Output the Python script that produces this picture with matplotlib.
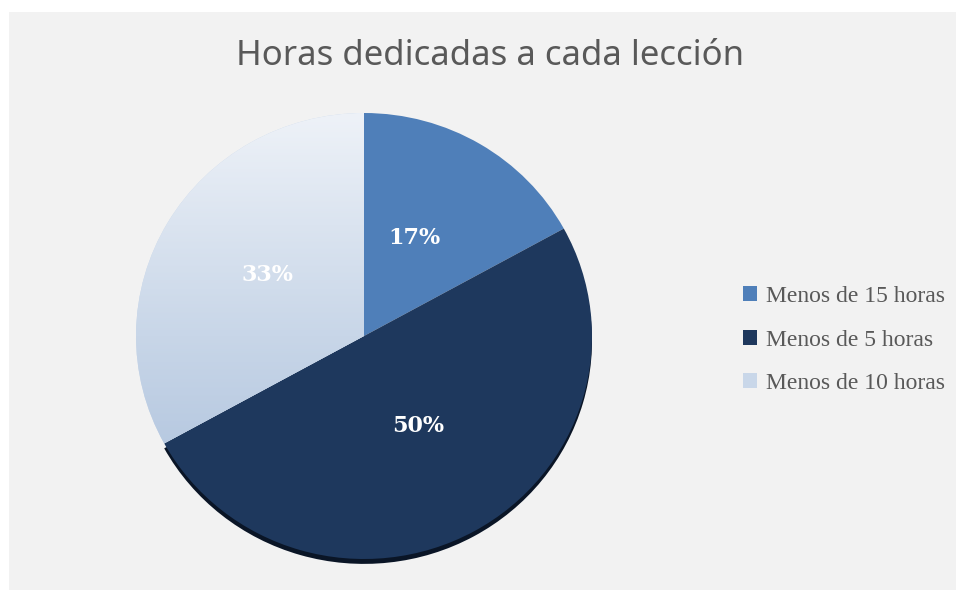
import matplotlib.pyplot as plt
import numpy as np
from matplotlib.colors import LinearSegmentedColormap
from matplotlib.patches import Rectangle, Patch

# data
categories = ['Menos de 15 horas', 'Menos de 5 horas', 'Menos de 10 horas']
values = [17, 50, 33]
colors = ['#4f7fb9', '#1e385d', '#c9d7e9']
title = 'Horas dedicadas a cada lección'

fig = plt.figure(figsize=(9.56, 5.9), dpi=100)
fig.patch.set_facecolor('white')
# gray chart area
fig.add_artist(Rectangle((9 / 956, 0), 1, 1 - 12 / 590, transform=fig.transFigure,
                         facecolor='#f2f2f2', edgecolor='none', zorder=0))

# axes placed so the pie centre sits at (364, 336) px, slightly flattened
cx, cy, rx, ry = 364, 336, 228, 223
ax = fig.add_axes([(cx - rx) / 956, (590 - cy - ry) / 590, 2 * rx / 956, 2 * ry / 590])
ax.axis('off')

# shadow under the big slice
shadow, _ = ax.pie(values, colors=['none', '#0a1526', 'none'], startangle=90, counterclock=False,
                   radius=1.0, center=(0, -0.022), wedgeprops=dict(linewidth=0))
for w in shadow:
    w.set_zorder(1)

wedges, texts = ax.pie(values, colors=colors, startangle=90, counterclock=False,
                       radius=1.0, wedgeprops=dict(linewidth=0))
for w in wedges:
    w.set_zorder(2)

# vertical gradient for the light slice
cmap = LinearSegmentedColormap.from_list('lg', ['#eef2f8', '#c8d6e8', '#a6bcd9'])
grad = np.linspace(0, 1, 256).reshape(-1, 1)
im = ax.imshow(grad, cmap=cmap, extent=[-1, 1, -1, 1], aspect='auto', zorder=3)
im.set_clip_path(wedges[2])
ax.set_xlim(-1, 1)
ax.set_ylim(-1, 1)
ax.set_aspect('auto')

# percentage labels
label_pos = [(414, 238), (418, 426), (267, 275)]
for v, (px, py) in zip(values, label_pos):
    ax.text((px - cx) / rx, (cy - py) / ry, f'{v}%', color='white', fontsize=16,
            fontweight='bold', family='DejaVu Serif', ha='center', va='center', zorder=5)

fig.text(490 / 956, 1 - 56 / 590, title, ha='center', va='center', fontsize=25,
         color='#595959', family='Noto Sans')

handles = [Patch(facecolor=c, edgecolor='none') for c in colors]
leg = fig.legend(handles, categories, loc='center left', bbox_to_anchor=(722 / 956, 1 - 340 / 590),
                 frameon=False, handlelength=0.6, handleheight=0.6, handletextpad=0.35,
                 labelspacing=0.95, prop={'family': 'Liberation Serif', 'size': 17})
for t in leg.get_texts():
    t.set_color('#595959')

fig.savefig('out.png', dpi=100, facecolor=fig.get_facecolor())
